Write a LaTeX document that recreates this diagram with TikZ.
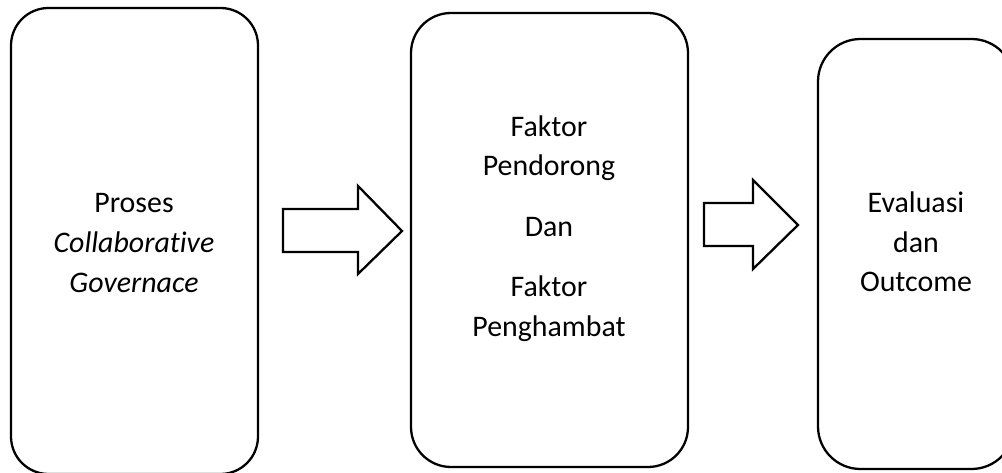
\documentclass[tikz,border=0pt]{standalone}
\usepackage{fontspec}
\setmainfont[Ligatures=NoCommon]{Carlito}
\usepackage{tikz}
\usetikzlibrary{calc}
\tikzset{>=stealth}
\tikzset{kotak/.style={draw, line width=1.3pt, rounded corners=0.8cm, inner sep=0pt},
	teks/.style={align=center, font=\fontsize{17}{22.5}\selectfont},
	panah/.style={draw, line width=1.3pt}}

\begin{document}
\begin{tikzpicture}
			\useasboundingbox (0, 0) rectangle (20.04, 9.44);
			\node [kotak, rounded corners=0.75cm, minimum width=4.94cm, minimum height=9.32cm] (proses) at (2.69, 4.62) {};
			\node [kotak, minimum width=5.54cm, minimum height=9.08cm] (faktor) at (10.99, 4.64) {};
			\node [kotak, rounded corners=0.85cm, minimum width=3.92cm, minimum height=8.6cm] (evaluasi) at (18.32, 4.36) {};
			\node [teks] (tproses) at (2.68, 4.58) {Proses\\\textit{Collaborative}\\\textit{Governace}};
			\node [teks] (tfaktor) at (10.98, 4.87) {Faktor\\Pendorong\\[0.42cm]Dan\\[0.42cm]Faktor\\Penghambat};
			\node [teks] (tevaluasi) at (18.32, 4.6) {Evaluasi\\dan\\Outcome};
			% panah blok
			\draw [panah] (5.66, 4.40)--(5.66, 5.26)--(7.16, 5.26)--(7.16, 5.72)--(8.04, 4.82)--(7.16, 3.96)--(7.16, 4.40)--cycle;
			\draw [panah] (14.08, 4.52)--(14.08, 5.38)--(15.06, 5.38)--(15.06, 5.84)--(15.96, 4.94)--(15.06, 4.06)--(15.06, 4.52)--cycle;
\end{tikzpicture}
\end{document}
